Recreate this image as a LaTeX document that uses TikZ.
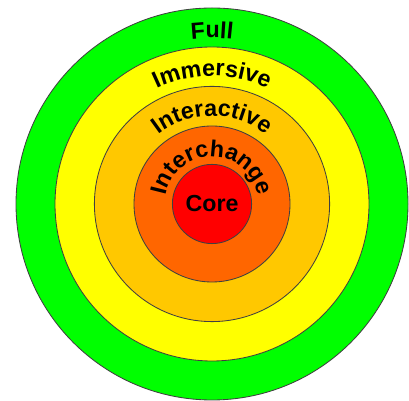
\documentclass[tikz,border=0pt]{standalone}
\usepackage{fontspec}
\setmainfont{Liberation Sans}
\usepackage{tikz}
\usetikzlibrary{calc, decorations.text}

\definecolor{fullgreen}{HTML}{00FF00}
\definecolor{immyellow}{HTML}{FFFF00}
\definecolor{interorange}{HTML}{FFC800}
\definecolor{changeorange}{HTML}{FF6600}
\definecolor{corered}{HTML}{FF0000}

\newcommand{\ringfont}{\bfseries\fontsize{16.5}{18}\selectfont}

\tikzset{
    ring/.style={draw=black!75, line width=0.6pt},
    ringtext/.style={decorate, decoration={text along path, text align=center, text={|\ringfont|#1}}}
}

\begin{document}
\begin{tikzpicture}
    \useasboundingbox (0,0) rectangle (10.225,10.025);
    \coordinate (c) at (5.3,4.925);

    % Rings, outside in
    \draw[ring, fill=fullgreen] (c) circle (4.9);
    \draw[ring, fill=immyellow] (c) circle (3.925);
    \draw[ring, fill=interorange] (c) circle (2.94);
    \draw[ring, fill=changeorange] (c) circle (1.95);
    \draw[ring, fill=corered] (c) circle (0.99);

    % Labels along the rings
    \path[ringtext=Full] ($(c)+(180:4.15)$) arc[start angle=180, end angle=0, radius=4.15];
    \path[ringtext=Immersive] ($(c)+(180:3.2)$) arc[start angle=180, end angle=0, radius=3.2];
    \path[ringtext=Interactive] ($(c)+(180:2.2)$) arc[start angle=180, end angle=0, radius=2.2];
    \path[ringtext=Interchange] ($(c)+(180:1.18)$) arc[start angle=180, end angle=0, radius=1.18];

    % Centre
    \node[font=\ringfont, inner sep=0pt] (core) at (c) {Core};
\end{tikzpicture}
\end{document}
